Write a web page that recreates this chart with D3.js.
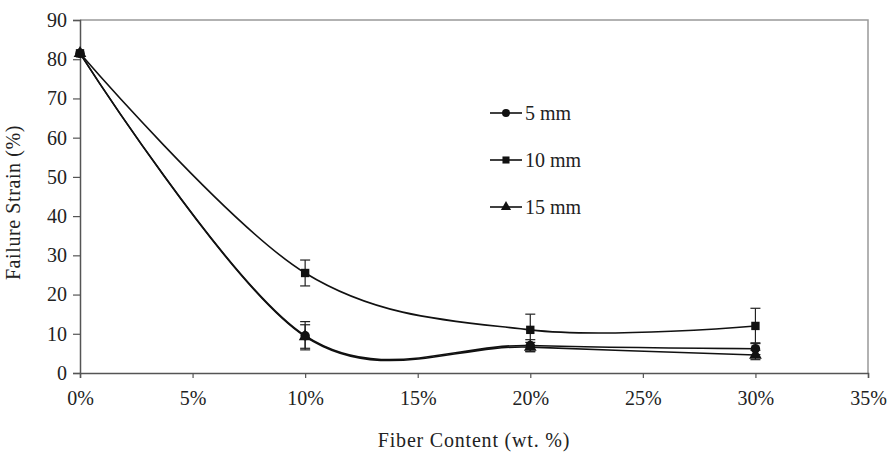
<!DOCTYPE html>
<html>
<head>
<meta charset="utf-8">
<script src="https://cdn.jsdelivr.net/npm/d3@7"></script>
<style>
  body { margin: 0; background: #fff; }
  text { font-family: "Liberation Serif", "DejaVu Serif", serif; fill: #222; }
</style>
</head>
<body>
<div id="chart"></div>
<script>
// fiber content (wt. %)
let fiberContent = [0, 10, 20, 30];

// failure strain (%) per fiber length
let strain5mm  = [81.5, 9.5, 7.0, 6.2];
let strain10mm = [81.5, 25.5, 11.0, 12.0];
let strain15mm = [81.5, 9.3, 6.6, 4.6];

// error bar half-widths
let err5mm  = [0, 3.6, 1.5, 1.5];
let err10mm = [0, 3.3, 4.0, 4.5];
let err15mm = [0, 3.0, 1.2, 1.2];

let seriesNames = ["5 mm", "10 mm", "15 mm"];
let xTicks = [0, 5, 10, 15, 20, 25, 30, 35];
let yTicks = [0, 10, 20, 30, 40, 50, 60, 70, 80, 90];

let series = [
    {name: seriesNames[0], values: strain5mm, err: err5mm, symbol: d3.symbolCircle},
    {name: seriesNames[1], values: strain10mm, err: err10mm, symbol: d3.symbolSquare},
    {name: seriesNames[2], values: strain15mm, err: err15mm, symbol: d3.symbolTriangle}
];

let margin = {top: 20, right: 22, bottom: 82, left: 80};
let width = 890 - margin.left - margin.right;
let height = 455 - margin.top - margin.bottom;
let fontSize = 20;

let svg = d3.select("#chart").append("svg")
    .attr("width", 890)
    .attr("height", 455)
    .append("g")
    .attr("transform", "translate(" + margin.left + "," + margin.top + ")");

let x = d3.scaleLinear().domain([0, 35]).range([0, width]);
let y = d3.scaleLinear().domain([0, 90]).range([height, 0]);

// plot frame (top + right)
svg.append("path")
    .attr("d", "M0,0H" + width + "V" + height)
    .attr("fill", "none")
    .attr("stroke", "#999")
    .attr("stroke-width", 1.5);

let xAxis = d3.axisBottom(x).tickValues(xTicks).tickFormat(d => d + "%").tickSize(5).tickPadding(13);
let yAxis = d3.axisLeft(y).tickValues(yTicks).tickSize(7).tickPadding(6);

let gx = svg.append("g")
    .attr("transform", "translate(0," + height + ")")
    .call(xAxis);
let gy = svg.append("g").call(yAxis);

[gx, gy].forEach(g => {
    g.select(".domain").attr("stroke", "#555").attr("stroke-width", 1.5);
    g.selectAll(".tick line").attr("stroke", "#555").attr("stroke-width", 1.2);
    g.selectAll("text").attr("font-size", fontSize).attr("font-family", "Liberation Serif").attr("fill", "#222");
});

// axis titles
svg.append("text")
    .attr("x", width / 2)
    .attr("y", height + 74)
    .attr("text-anchor", "middle")
    .attr("font-size", fontSize)
    .attr("letter-spacing", 0.8)
    .text("Fiber Content (wt. %)");

svg.append("text")
    .attr("transform", "translate(-60," + (height / 2 + 6) + ") rotate(-90)")
    .attr("text-anchor", "middle")
    .attr("font-size", fontSize)
    .attr("letter-spacing", 0.6)
    .text("Failure Strain (%)");

let line = d3.line()
    .x((d, i) => x(fiberContent[i]))
    .y(d => y(d))
    .curve(d3.curveCardinal.tension(0));

series.forEach(s => {
    svg.append("path")
        .datum(s.values)
        .attr("fill", "none")
        .attr("stroke", "#111")
        .attr("stroke-width", 1.6)
        .attr("d", line);
});

// error bars
series.forEach(s => {
    s.values.forEach((v, i) => {
        if (s.err[i] === 0) return;
        let cx = x(fiberContent[i]);
        let g = svg.append("g").attr("stroke", "#222").attr("stroke-width", 1.2);
        g.append("line").attr("x1", cx).attr("x2", cx).attr("y1", y(v - s.err[i])).attr("y2", y(v + s.err[i]));
        g.append("line").attr("x1", cx - 5).attr("x2", cx + 5).attr("y1", y(v - s.err[i])).attr("y2", y(v - s.err[i]));
        g.append("line").attr("x1", cx - 5).attr("x2", cx + 5).attr("y1", y(v + s.err[i])).attr("y2", y(v + s.err[i]));
    });
});

// markers (squares drawn last so they sit on top, as in the original)
[series[0], series[2], series[1]].forEach(s => {
    svg.selectAll(null)
        .data(s.values)
        .enter().append("path")
        .attr("d", d3.symbol().type(s.symbol).size(70))
        .attr("transform", (d, i) => "translate(" + x(fiberContent[i]) + "," + y(d) + ")")
        .attr("fill", "#111");
});

// legend
let legend = svg.append("g").attr("transform", "translate(410,93)");
series.forEach((s, i) => {
    let g = legend.append("g").attr("transform", "translate(0," + (i * 47) + ")");
    g.append("line").attr("x1", 0).attr("x2", 32).attr("y1", 0).attr("y2", 0)
        .attr("stroke", "#111").attr("stroke-width", 1.6);
    g.append("path")
        .attr("d", d3.symbol().type(s.symbol).size(s.symbol === d3.symbolTriangle ? 45 : 50))
        .attr("transform", "translate(16,0)")
        .attr("fill", "#111");
    g.append("text")
        .attr("x", 35)
        .attr("y", 7)
        .attr("font-size", fontSize)
        .text(s.name);
});
</script>
</body>
</html>
